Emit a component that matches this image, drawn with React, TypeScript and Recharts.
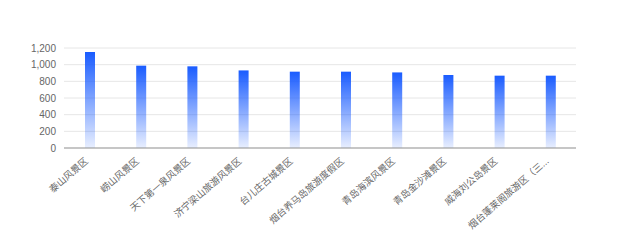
import React from 'react';
import { BarChart, Bar, XAxis, YAxis, CartesianGrid } from 'recharts';

const categories = [
  '泰山风景区',
  '崂山风景区',
  '天下第一泉风景区',
  '济宁梁山旅游风景区',
  '台儿庄古城景区',
  '烟台养马岛旅游度假区',
  '青岛海滨风景区',
  '青岛金沙滩景区',
  '威海刘公岛景区',
  '烟台蓬莱阁旅游区（三仙山—八仙过海）',
];
const values = [1152, 988, 980, 931, 916, 916, 907, 876, 868, 868];
const yTicks = [0, 200, 400, 600, 800, 1000, 1200];

const data = categories.map((name, i) => ({ name, value: values[i] }));

const FONT = '"Liberation Sans", "Noto Sans CJK SC", sans-serif';

const truncate = (s: string) => (s.length > 10 ? s.slice(0, 10) + '...' : s);

const XTick = (props: any) => {
  const { x, payload } = props;
  return (
    <g transform={`translate(${x - 1},${162})`}>
      <text
        x={0}
        y={0}
        textAnchor="end"
        fill="#666"
        fontSize={9.5}
        fontFamily={FONT}
        transform="rotate(-41)"
      >
        {truncate(payload.value)}
      </text>
    </g>
  );
};

export default function App() {
  return (
    <div style={{ position: 'absolute', left: 0, top: 0, width: 640, height: 240, background: '#fff' }}>
      <BarChart
        width={640}
        height={240}
        data={data}
        margin={{ top: 48, right: 64, bottom: 0, left: 0 }}
      >
        <defs>
          <linearGradient id="barGrad" x1="0" y1="0" x2="0" y2="1">
            <stop offset="0%" stopColor="#1a5cff" stopOpacity={1} />
            <stop offset="100%" stopColor="#1a5cff" stopOpacity={0.1} />
          </linearGradient>
        </defs>
        <CartesianGrid vertical={false} stroke="#e6e6e6" />
        <XAxis
          dataKey="name"
          interval={0}
          height={92}
          tick={<XTick />}
          tickLine={false}
          axisLine={{ stroke: '#999' }}
        />
        <YAxis
          width={64}
          domain={[0, 1200]}
          ticks={yTicks}
          tickFormatter={(v: number) => v.toLocaleString('en-US')}
          axisLine={false}
          tickLine={false}
          tick={{ fill: '#666', fontSize: 10, fontFamily: FONT }}
          interval={0}
        />
        <Bar dataKey="value" barSize={10} fill="url(#barGrad)" isAnimationActive={false} />
      </BarChart>
    </div>
  );
}
